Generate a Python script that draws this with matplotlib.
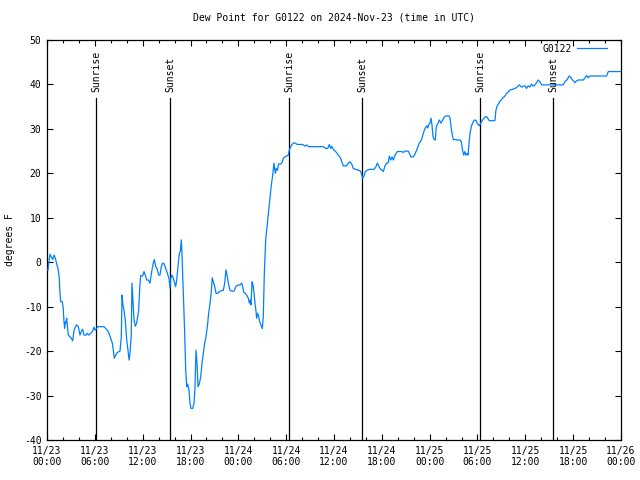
import matplotlib
matplotlib.use("Agg")
import matplotlib.pyplot as plt
from matplotlib.ticker import MultipleLocator

# Hours since 2024-11-23 00:00 UTC
hours = [0.13, 0.21, 0.38, 0.54, 0.72, 0.88, 1.04, 1.22, 1.38, 1.54, 1.63, 1.72, 1.92, 2.04, 2.13,
         2.22, 2.30, 2.38, 2.47, 2.55, 2.67, 2.89, 3.05, 3.22, 3.39, 3.60, 3.73, 3.93, 4.14, 4.30,
         4.48, 4.64, 4.89, 5.06, 5.23, 5.48, 5.68, 5.90, 6.02, 6.40, 7.15, 7.36, 7.56, 7.78, 7.99,
         8.19, 8.32, 8.44, 8.62, 8.82, 9.16, 9.32, 9.41, 9.53, 9.66, 9.82, 10.00, 10.16, 10.29, 10.41,
         10.57, 10.66, 10.79, 10.91, 11.08, 11.25, 11.50, 11.63, 11.75, 12.00, 12.17, 12.33, 12.51, 12.71, 12.92,
         13.13, 13.33, 13.46, 13.64, 13.84, 14.01, 14.17, 14.34, 14.51, 14.71, 14.89, 15.09, 15.30, 15.43, 15.52,
         15.68, 15.84, 15.97, 16.14, 16.27, 16.47, 16.60, 16.72, 16.85, 16.93, 17.10, 17.27, 17.40, 17.52, 17.65,
         17.81, 17.94, 18.06, 18.28, 18.44, 18.56, 18.69, 18.82, 18.94, 19.10, 19.28, 19.44, 19.61, 19.78, 19.94,
         20.11, 20.28, 20.45, 20.61, 20.73, 20.86, 21.04, 21.20, 21.41, 21.61, 21.91, 22.12, 22.29, 22.45, 22.62,
         22.79, 22.95, 23.17, 23.46, 23.71, 24.00, 24.21, 24.42, 24.55, 24.67, 24.87, 25.05, 25.25, 25.38, 25.50,
         25.59, 25.72, 25.84, 25.97, 26.09, 26.22, 26.30, 26.43, 26.56, 26.68, 26.84, 27.01, 27.13, 27.26, 27.43,
         27.60, 27.81, 27.97, 28.14, 28.31, 28.47, 28.64, 28.76, 28.89, 29.06, 29.32, 29.48, 29.64, 29.82, 30.07,
         30.27, 30.39, 30.57, 30.77, 31.02, 31.40, 32.07, 32.36, 32.58, 32.78, 33.40, 34.66, 34.96, 35.21, 35.41,
         35.59, 35.71, 35.91, 36.21, 36.54, 36.84, 37.04, 37.16, 37.59, 37.79, 38.01, 38.22, 38.42, 38.72, 39.05,
         39.26, 39.43, 39.60, 39.76, 39.93, 40.18, 40.52, 41.02, 41.27, 41.43, 41.61, 41.77, 42.02, 42.19, 42.40,
         42.61, 42.81, 42.94, 43.11, 43.28, 43.44, 43.66, 43.94, 44.50, 44.70, 44.91, 45.32, 45.45, 45.66, 45.95,
         46.20, 46.45, 46.70, 47.00, 47.20, 47.42, 47.63, 47.75, 47.92, 48.04, 48.17, 48.29, 48.42, 48.58, 48.71,
         48.83, 49.05, 49.21, 49.42, 49.64, 49.84, 50.05, 50.43, 50.55, 50.68, 50.80, 50.97, 51.22, 51.47, 51.81,
         51.97, 52.15, 52.28, 52.40, 52.56, 52.69, 52.81, 52.94, 53.06, 53.22, 53.40, 53.60, 53.81, 54.03, 54.23,
         54.40, 54.56, 54.81, 55.03, 55.23, 55.40, 55.56, 56.19, 56.31, 56.48, 56.81, 57.15, 57.44, 57.65, 57.85,
         58.06, 58.40, 58.69, 58.90, 59.23, 59.53, 59.73, 59.94, 60.15, 60.36, 60.57, 60.78, 60.98, 61.20, 61.41,
         61.61, 61.82, 62.05, 63.29, 64.75, 64.96, 65.25, 65.50, 65.68, 65.93, 66.22, 66.43, 66.63, 67.27, 67.48,
         67.69, 67.89, 68.10, 70.20, 70.40, 72.00]

dewpoint = [-1.8, -0.2, 1.8, 1.2, 0.6, 1.6, 0.9, -0.4, -1.4, -3.6, -7.0, -8.9, -8.9, -10.4, -13.4,
            -14.9, -13.4, -13.7, -12.6, -14.1, -16.4, -16.8, -17.1, -17.7, -15.3, -14.4, -14.1, -14.5, -16.4, -15.6,
            -15.1, -16.4, -16.4, -16.0, -16.4, -16.0, -15.6, -14.6, -15.3, -14.5, -14.5, -14.9, -15.3, -16.0, -17.1,
            -18.2, -19.8, -21.6, -20.9, -20.3, -20.0, -16.8, -7.4, -9.6, -10.8, -13.0, -17.5, -19.8, -22.0, -20.5,
            -16.4, -4.7, -8.9, -13.0, -14.4, -13.7, -10.8, -5.9, -3.0, -3.1, -2.1, -2.9, -4.0, -4.0, -4.7,
            -2.1, -0.2, 0.6, -1.0, -1.6, -2.9, -2.9, -1.0, -0.2, -0.4, -1.4, -2.5, -3.6, -5.9, -3.6,
            -2.9, -3.6, -4.4, -5.5, -4.0, -0.2, 2.0, 2.4, 5.0, 2.0, -7.0, -16.0, -24.3, -28.0, -27.4,
            -28.8, -31.8, -32.9, -32.9, -31.8, -28.4, -19.8, -22.8, -28.0, -27.4, -25.8, -22.8, -20.5, -18.2, -16.8,
            -14.5, -11.5, -9.2, -6.6, -3.5, -4.4, -5.5, -7.0, -7.0, -6.6, -6.4, -6.3, -4.7, -1.7, -3.3,
            -5.1, -6.3, -6.5, -6.5, -5.4, -5.1, -5.1, -4.7, -5.5, -6.8, -7.0, -7.4, -8.1, -9.2, -8.5,
            -9.6, -4.4, -5.1, -7.0, -9.2, -11.1, -12.6, -11.5, -12.3, -13.4, -14.1, -14.9, -12.3, -2.5, 5.0,
            8.0, 11.7, 14.7, 17.4, 19.6, 22.3, 20.0, 21.1, 20.7, 22.1, 22.1, 22.4, 23.4, 23.7, 23.9,
            24.1, 25.2, 26.0, 26.6, 26.9, 26.5, 26.5, 26.1, 26.4, 26.0, 26.0, 26.0, 25.6, 25.6, 26.5,
            25.6, 26.1, 25.4, 24.9, 24.1, 23.4, 22.3, 21.7, 21.7, 22.3, 22.6, 22.1, 21.1, 20.9, 20.7,
            20.6, 20.0, 18.9, 19.4, 20.4, 20.7, 20.9, 20.9, 21.5, 22.3, 21.7, 21.1, 20.7, 20.4, 21.7,
            22.3, 22.4, 23.9, 23.0, 23.7, 23.0, 24.1, 24.9, 24.9, 24.7, 25.0, 25.0, 24.5, 23.7, 23.7,
            24.5, 25.6, 26.8, 27.6, 29.0, 30.1, 30.7, 30.2, 31.1, 31.3, 32.4, 30.9, 28.2, 27.6, 27.5,
            30.5, 31.3, 32.0, 31.3, 32.0, 32.7, 32.9, 32.9, 32.4, 30.5, 29.0, 27.6, 27.6, 27.5, 27.5,
            27.1, 24.9, 24.1, 24.9, 24.1, 24.5, 24.1, 26.8, 29.0, 30.5, 31.4, 32.0, 31.9, 31.1, 30.7,
            31.3, 31.8, 32.4, 32.8, 32.6, 32.0, 31.8, 31.9, 34.2, 35.2, 36.2, 36.9, 37.4, 38.0, 38.3,
            38.75, 38.9, 39.1, 39.3, 39.9, 39.4, 39.6, 39.7, 39.1, 39.7, 39.4, 40.1, 39.6, 39.9, 40.4,
            41.0, 40.6, 39.9, 39.9, 39.9, 40.6, 41.1, 41.9, 41.6, 41.0, 40.4, 40.8, 41.0, 41.0, 41.5,
            42.0, 41.5, 41.9, 41.9, 42.9, 42.9]

# Sun events (hours since start)
event_hours = [6.15, 15.43, 30.36, 39.51, 54.31, 63.47]
event_names = ["Sunrise", "Sunset", "Sunrise", "Sunset", "Sunrise", "Sunset"]

tick_hours = [0, 6, 12, 18, 24, 30, 36, 42, 48, 54, 60, 66, 72]
tick_labels = ["11/23\n00:00", "11/23\n06:00", "11/23\n12:00", "11/23\n18:00",
               "11/24\n00:00", "11/24\n06:00", "11/24\n12:00", "11/24\n18:00",
               "11/25\n00:00", "11/25\n06:00", "11/25\n12:00", "11/25\n18:00",
               "11/26\n00:00"]
y_ticks = [-40, -30, -20, -10, 0, 10, 20, 30, 40, 50]

FONT = "DejaVu Sans Mono"
FS = 7

fig = plt.figure(figsize=(6.4, 4.8), dpi=100)
ax = fig.add_axes([47/640, 40/480, 574/640, 400/480])

ax.plot(hours, dewpoint, color="#0080ff", lw=0.9, label="G0122", zorder=3)

for h, name in zip(event_hours, event_names):
    ax.plot([h, h], [-40, 36.9], color="black", lw=0.9, zorder=2)
    ax.text(h, 38.2, name, rotation=90, ha="center", va="bottom",
            fontsize=FS, family=FONT)

ax.set_xlim(0, 72)
ax.set_ylim(-40, 50)
ax.set_xticks(tick_hours)
ax.set_xticklabels(tick_labels, fontsize=FS, family=FONT)
ax.set_yticks(y_ticks)
ax.set_yticklabels([str(v) for v in y_ticks], fontsize=FS, family=FONT)
ax.xaxis.set_minor_locator(MultipleLocator(2))
ax.tick_params(which="both", direction="in", top=True, right=True, width=0.8)
ax.tick_params(which="major", length=4.5, pad=4)
ax.tick_params(which="minor", length=2.5)
for s in ax.spines.values():
    s.set_linewidth(0.9)

ax.set_ylabel("degrees F", fontsize=FS, family=FONT, labelpad=6)
ax.set_title("Dew Point for G0122 on 2024-Nov-23 (time in UTC)", fontsize=FS,
             family=FONT, pad=14)

leg = ax.legend(loc="upper right", bbox_to_anchor=(0.985, 1.005), frameon=False,
                prop={"family": FONT, "size": FS},
                handlelength=3.0, markerfirst=False, borderaxespad=0.2, handletextpad=0.6)

fig.savefig("out.png", dpi=100)
